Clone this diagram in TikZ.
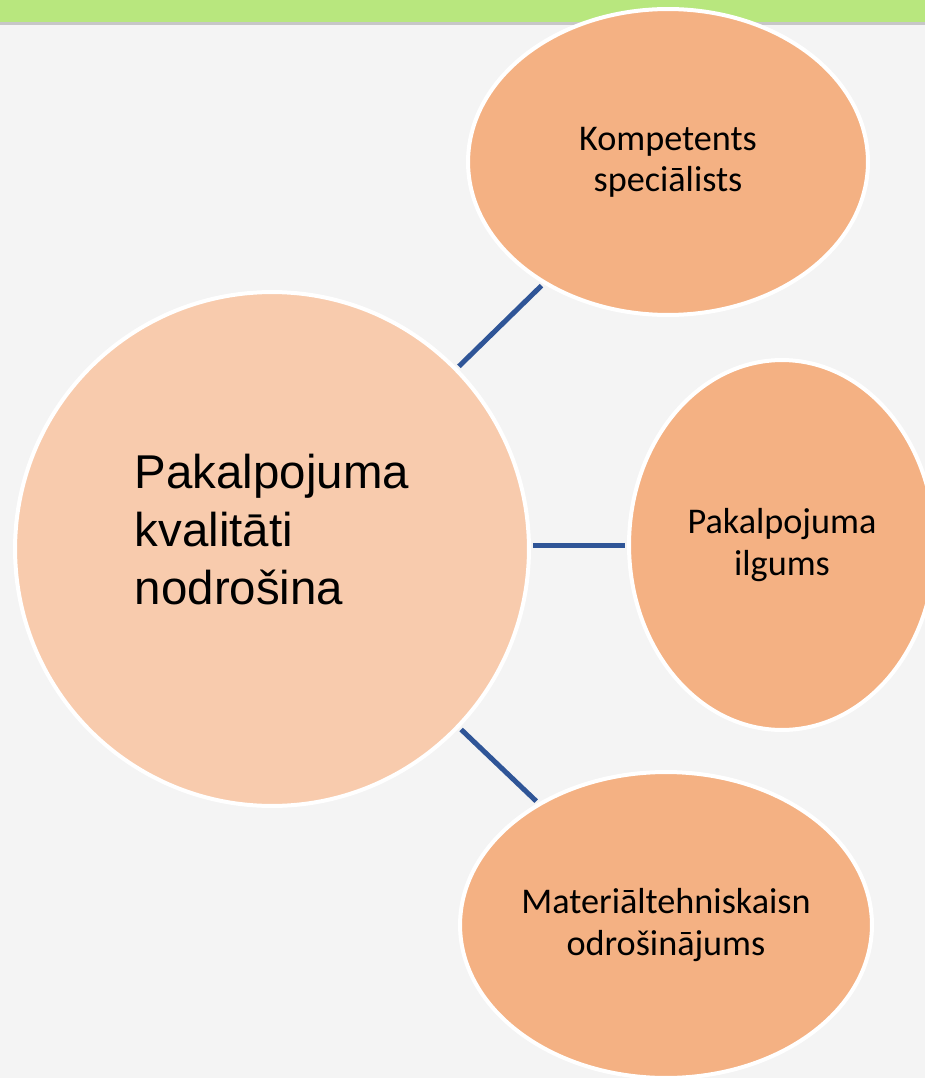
\documentclass[tikz,border=0pt]{standalone}
\usepackage{fontspec}
\setmainfont{Liberation Sans}
\newfontfamily\labelfont{Carlito}
\usetikzlibrary{shapes.geometric}
\definecolor{barGreen}{HTML}{B8E77E}
\definecolor{backGray}{HTML}{F4F4F4}
\definecolor{bigPeach}{HTML}{F8CBAD}
\definecolor{smallPeach}{HTML}{F4B183}
\definecolor{linkBlue}{HTML}{2F5597}

\begin{document}
\begin{tikzpicture}[x=0.02cm, y=-0.02cm,
	bubble/.style={ellipse, draw=white, line width=0.08cm, fill=smallPeach, inner sep=0pt, align=center, font=\labelfont\fontsize{20.6}{23.5}\selectfont},
	link/.style={draw=linkBlue, line width=0.1cm, shorten <=0.05cm, shorten >=0.05cm}]

%page
\useasboundingbox (0,0) rectangle (925,1078);
\clip (0,0) rectangle (925,1078);
\fill[backGray] (0,0) rectangle (925,1078);
\fill[black!22] (0,22) rectangle (925,25);
\fill[barGreen] (0,0) rectangle (925,22);

%circles
\node[circle, draw=white, line width=0.08cm, fill=bigPeach, minimum size=10.28cm] (quality) at (272,549) {};
\node[align=left, font=\fontsize{27}{33}\selectfont] (qualitytext) at (272,530) {Pakalpojuma\\kvalitāti\\nodrošina};
\node[bubble, minimum width=8cm, minimum height=6.12cm] (specialist) at (668,162) {Kompetents\\speciālists};
\node[bubble, minimum width=6.12cm, minimum height=7.4cm] (duration) at (782,545) {Pakalpojuma\\ilgums};
\node[bubble, minimum width=8.24cm, minimum height=6.12cm] (resources) at (666,925) {Materiāltehniskaisn\\odrošinājums};

%links
\draw[link] (quality) -- (specialist);
\draw[link] (quality.east |- duration.west) -- (duration.west);
\draw[link] (quality) -- (resources);

\end{tikzpicture}
\end{document}
